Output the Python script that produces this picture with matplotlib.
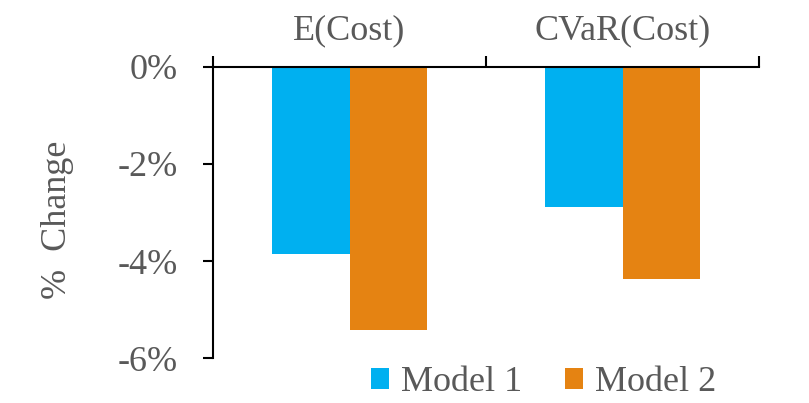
import matplotlib.pyplot as plt
import numpy as np

# Variation (%) des indicateurs de coût par modèle
categories = ['E(Cost)', 'CVaR(Cost)']
model1 = [-3.85, -2.89]
model2 = [-5.42, -4.37]
series_names = ['Model 1', 'Model 2']
y_ticks = [0, -2, -4, -6]

plt.rcParams['font.family'] = ['Liberation Serif', 'DejaVu Serif']
grey = '#595959'

fig = plt.figure(figsize=(8.09, 4.03), dpi=100)
ax = fig.add_axes([0.2633, 0.1109, 0.6749, 0.7236])

x = np.arange(len(categories))
w = 0.285
b1 = ax.bar(x - w / 2, model1, width=w, color='#00B0F0', label=series_names[0])
b2 = ax.bar(x + w / 2, model2, width=w, color='#E58312', label=series_names[1])

ax.set_xlim(-0.5, len(categories) - 0.5)
ax.set_ylim(-6, 0)

# axe horizontal en haut, catégories au-dessus
ax.spines['bottom'].set_visible(False)
ax.spines['right'].set_visible(False)
for s in ['top', 'left']:
    ax.spines[s].set_linewidth(1.5)
    ax.spines[s].set_color('black')

ax.xaxis.tick_top()
ax.set_xticks(x)
ax.set_xticklabels(categories, fontsize=26, color=grey)
ax.tick_params(axis='x', which='major', length=0, pad=14)
ax.set_xticks(np.arange(len(categories) + 1) - 0.5, minor=True)
ax.tick_params(axis='x', which='minor', length=8, width=1.5, direction='out', top=True, bottom=False)

ax.set_yticks(y_ticks)
ax.set_yticklabels([f'{t}%' for t in y_ticks], fontsize=26, color=grey)
ax.tick_params(axis='y', length=7.5, width=1.5, pad=18)

fig.text(58 / 809, 1 - 220 / 403, '%  Change', rotation=90, fontsize=26,
         color=grey, ha='center', va='center')

leg = fig.legend(handles=[b1, b2], loc='center', bbox_to_anchor=(0.672, 0.05),
                 ncol=2, frameon=False, fontsize=26, handlelength=0.5,
                 handleheight=0.5, handletextpad=0.33, columnspacing=1.2)
for t in leg.get_texts():
    t.set_color(grey)

fig.savefig('out.png', dpi=100)
